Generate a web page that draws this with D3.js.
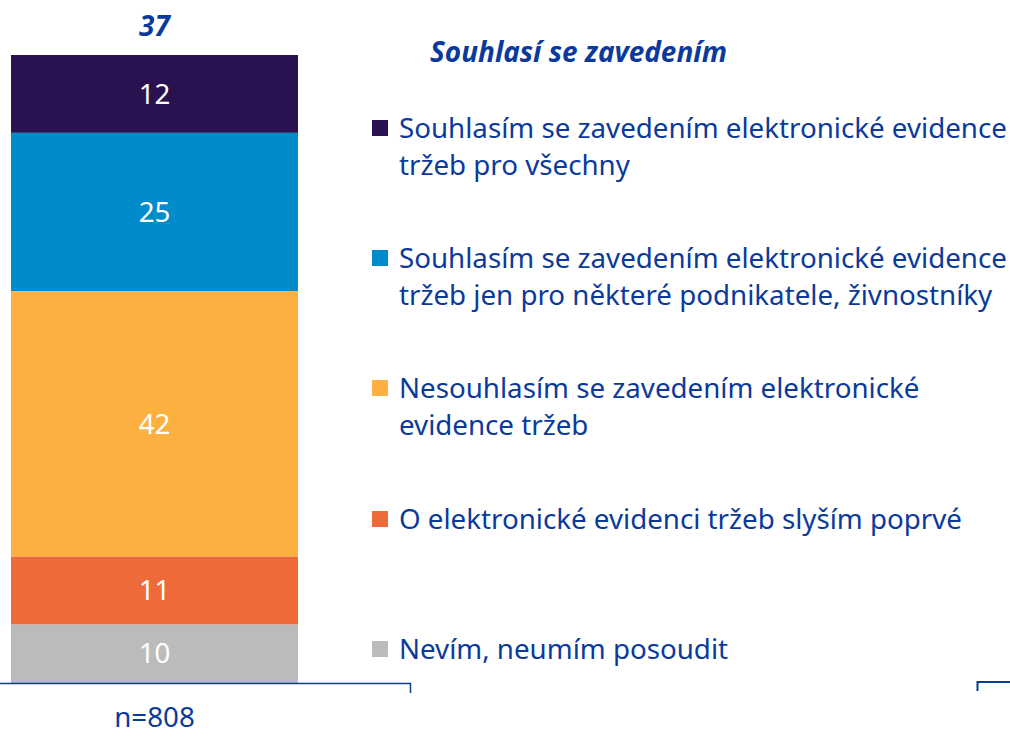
<!DOCTYPE html>
<html>
<head>
<meta charset="utf-8">
<script src="https://cdn.jsdelivr.net/npm/d3@7"></script>
<style>
  body { margin: 0; background: #fff; }
  text { font-family: "Noto Sans", "Open Sans", sans-serif; }
</style>
</head>
<body>
<div id="chart"></div>
<script>
var width = 1010, height = 737;

var categories = ["n=808"];
var segments   = ["all", "some", "disagree", "first", "dontknow"];
var values     = [12.4, 25.2, 42.3, 10.8, 9.3];
var labels     = ["12", "25", "42", "11", "10"];
var colors     = ["#2a114f", "#008ccc", "#fbb040", "#ee6a3a", "#bbbbbb"];
var legendText = [
    ["Souhlasím se zavedením elektronické evidence", "tržeb pro všechny"],
    ["Souhlasím se zavedením elektronické evidence", "tržeb jen pro některé podnikatele, živnostníky"],
    ["Nesouhlasím se zavedením elektronické", "evidence tržeb"],
    ["O elektronické evidenci tržeb slyším poprvé"],
    ["Nevím, neumím posoudit"]
];
var agreeTotal = "37";
var agreeTitle = "Souhlasí se zavedením";

var textBlue = "#0b3a9c";

var svg = d3.select("#chart")
    .append("svg")
    .attr("width", width)
    .attr("height", height);

var x = d3.scaleBand()
    .domain(categories)
    .range([11, 298]);

var y = d3.scaleLinear()
    .domain([0, 100])
    .range([683, 55]);

// stack the segments bottom-up (last segment sits at the bottom)
var stackData = [];
var acc = 0;
for (var i = values.length - 1; i >= 0; i--) {
    stackData.unshift({ key: segments[i], value: values[i], y0: acc, y1: acc + values[i], idx: i });
    acc += values[i];
}

var bar = svg.selectAll(".seg")
    .data(stackData)
    .enter().append("g").attr("class", "seg");

bar.append("rect")
    .attr("x", x("n=808"))
    .attr("width", x.bandwidth())
    .attr("y", function(d) { return y(d.y1); })
    .attr("height", function(d) { return y(d.y0) - y(d.y1); })
    .attr("fill", function(d) { return colors[d.idx]; });

bar.append("text")
    .attr("x", x("n=808") + x.bandwidth() / 2)
    .attr("y", function(d) { return (y(d.y0) + y(d.y1)) / 2; })
    .attr("dy", "0.35em")
    .attr("text-anchor", "middle")
    .attr("fill", "#fff")
    .style("font-size", "24px")
    .text(function(d) { return labels[d.idx]; });

// total on top
var totalText = svg.append("text")
    .attr("x", x("n=808") + x.bandwidth() / 2)
    .attr("y", 26)
    .attr("dy", "0.35em")
    .attr("text-anchor", "middle")
    .attr("fill", textBlue)
    .style("font-size", "24px")
    .style("font-weight", "bold")
    .style("font-style", "italic")
    .text(agreeTotal);

// category axis
var xAxis = d3.axisBottom(x).tickSize(0).tickPadding(24);
var axisG = svg.append("g")
    .attr("class", "x axis")
    .attr("transform", "translate(0,683)")
    .call(xAxis);
axisG.select(".domain").remove();
axisG.selectAll("text")
    .attr("fill", textBlue)
    .style("font-size", "24px")
    .style("font-family", "'Noto Sans', sans-serif");

svg.append("path")
    .attr("d", "M0,683.5H410.5V693")
    .attr("fill", "none")
    .attr("stroke", textBlue)
    .attr("stroke-width", 1.5);
svg.append("path")
    .attr("d", "M977.5,691V682H1010")
    .attr("fill", "none")
    .attr("stroke", textBlue)
    .attr("stroke-width", 2);

// legend
var titleText = svg.append("text")
    .attr("x", 430)
    .attr("y", 52)
    .attr("dy", "0.35em")
    .attr("fill", textBlue)
    .style("font-size", "24px")
    .style("font-weight", "bold")
    .style("font-style", "italic")
    .text(agreeTitle);

var legendY = [128, 258, 388, 519, 649];
var lineGap = 37;

var leg = svg.selectAll(".legend")
    .data(legendText)
    .enter().append("g")
    .attr("class", "legend")
    .attr("transform", function(d, i) { return "translate(372," + legendY[i] + ")"; });

leg.append("rect")
    .attr("x", 0)
    .attr("y", -8)
    .attr("width", 16)
    .attr("height", 16)
    .attr("fill", function(d, i) { return colors[i]; });

leg.selectAll("text")
    .data(function(d) { return d; })
    .enter().append("text")
    .attr("x", 27)
    .attr("y", function(d, j) { return j * lineGap; })
    .attr("dy", "0.35em")
    .attr("fill", textBlue)
    .style("font-size", "24px")
    .text(function(d) { return d; });

// fit font sizes to the widths seen in the reference
function fit(sel, target) {
    var w = sel.node().getComputedTextLength();
    return 24 * target / w;
}
var legSize = fit(leg.select("text"), 608);
var titleSize = fit(titleText, 297);
svg.selectAll(".legend text").style("font-size", legSize + "px");
svg.selectAll(".seg text").style("font-size", legSize + "px");
axisG.selectAll("text").style("font-size", legSize + "px");
titleText.style("font-size", titleSize + "px");
totalText.style("font-size", titleSize + "px");
</script>
</body>
</html>
